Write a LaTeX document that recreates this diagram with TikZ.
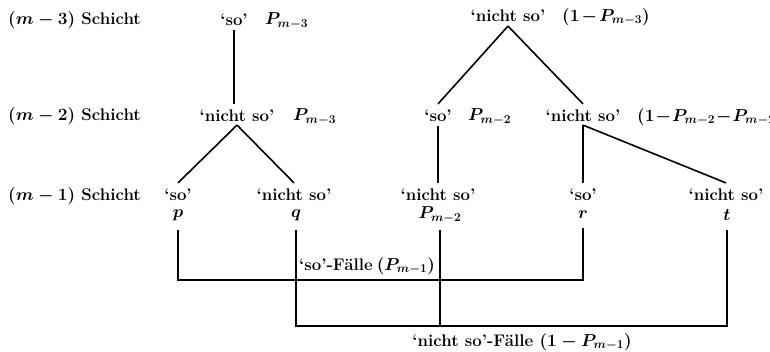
\documentclass[tikz,border=0pt]{standalone}
\usepackage{amsmath}
\begin{document}
\begin{tikzpicture}[x=1pt,y=-1pt,
  txt/.style={inner sep=0pt,font=\fontsize{16.8}{20}\selectfont\bfseries\boldmath},
  word/.style={txt,inner ysep=1pt,inner xsep=0pt},
  lab/.style={txt,anchor=west},
  edge/.style={line width=1.6pt}]
\useasboundingbox (0,0) rectangle (770,351);
% row labels
\node[lab] (r3) at (8,20) {$(m-3)$ Schicht};
\node[lab] (r2) at (8,116) {$(m-2)$ Schicht};
\node[lab] (r1) at (8,196) {$(m-1)$ Schicht};
% layer m-3
\node[word] (a) at (234,20) {`so'};
\node[lab] (aP) at (265,21) {$P_{m-3}$};
\node[word] (b) at (508,16) {`nicht so'};
\node[lab] (bP) at (562,17) {$(1\mkern2mu{-}\mkern2mu P_{m-3})$};
% layer m-2
\node[word] (c) at (237,116) {`nicht so'};
\node[lab] (cP) at (293,117) {$P_{m-3}$};
\node[word] (d) at (438,116) {`so'};
\node[lab] (dP) at (468,117) {$P_{m-2}$};
\node[word] (e) at (583,116) {`nicht so'};
\node[lab] (eP) at (637,117) {$(1\mkern1mu{-}\mkern1mu P_{m-2}\mkern1mu{-}\mkern1mu P_{m-2})$};
% layer m-1
\node[word] (f) at (178,195) {`so'};
\node[word] (g) at (294,195) {`nicht so'};
\node[word] (h) at (438,195) {`nicht so'};
\node[word] (i) at (583,195) {`so'};
\node[word] (j) at (726,195) {`nicht so'};
\node[word] (p) at (178,215) {$p$};
\node[word] (q) at (296,215) {$q$};
\node[word] (P2) at (440,215) {$P_{m-2}$};
\node[word] (r) at (583,215) {$r$};
\node[word] (t) at (727,215) {$t$};
% tree edges
\draw[edge] ([yshift=-3pt]a.south) -- ([yshift=5pt]a.south |- c.north);
\draw[edge] ([yshift=-3pt]b.south) -- ([yshift=5pt]d.north);
\draw[edge] ([yshift=-3pt]b.south) -- ([yshift=5pt]e.north);
\draw[edge] ([yshift=-2pt]c.south) -- ([yshift=5pt]f.north);
\draw[edge] ([yshift=-2pt]c.south) -- ([yshift=5pt]g.north);
\draw[edge] ([yshift=-3pt]d.south) -- ([yshift=5pt]d.south |- h.north);
\draw[edge] ([yshift=-2pt]e.south) -- ([yshift=5pt]i.north);
\draw[edge] ([yshift=-2pt]e.south) -- ([yshift=5pt]j.north);
% brackets
\coordinate (so1) at (178,280);
\coordinate (ns1) at (296,326);
\draw[edge] ([yshift=-8pt]p.south) -- (so1) -| ([yshift=-8pt]r.south);
\draw[edge] ([yshift=-8pt]q.south) -- (ns1) -| ([yshift=-8pt]t.south);
\draw[edge] ([yshift=-6pt]P2.south) -- (P2.south |- ns1);
\node[txt] (sf) at (367,266) {`so'-Fälle\hspace{0.25em}$(P_{m-1})$};
\node[txt] (nf) at (522,342) {`nicht so'-Fälle $(1-P_{m-1})$};
\end{tikzpicture}
\end{document}
